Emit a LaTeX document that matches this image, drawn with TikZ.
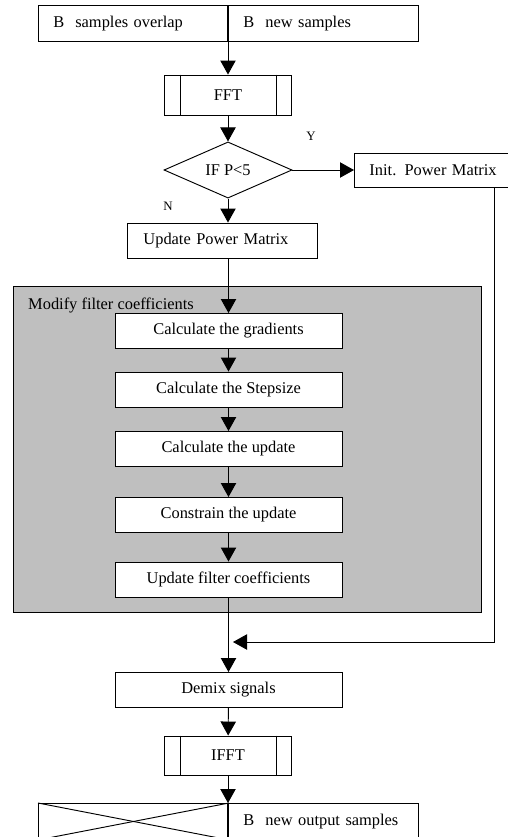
\documentclass[tikz,border=0pt]{standalone}
\usepackage{fontspec}
\setmainfont{Liberation Serif}
\usetikzlibrary{arrows.meta,shapes.geometric,positioning,calc}

\tikzset{
  box/.style={draw, line width=0.8pt, fill=white, minimum height=1.05cm, inner sep=0pt,
    font=\fontsize{14}{16}\selectfont},
  leftbox/.style={box, align=left, inner xsep=0.45cm},
  halfbox/.style={leftbox, anchor=north west, minimum width=5.7cm, text width=4.8cm, minimum height=1.08cm},
  process/.style={box, minimum width=3.81cm},
  stepbox/.style={box, minimum width=6.81cm},
  tag/.style={font=\fontsize{11}{12}\selectfont},
  arr/.style={-{Triangle[length=0.42cm,width=0.46cm]}, line width=0.8pt},
}

\begin{document}
\begin{tikzpicture}[x=0.03cm,y=-0.03cm]
\useasboundingbox (0,0) rectangle (508,837);
\fill[white] (0,0) rectangle (508,837);

% input block
\node[halfbox] (old) at (38,5) {B\ \ samples overlap};
\node[halfbox] (new) at (228,5) {B\ \ new samples};
\draw[line width=1.4pt] (new.north west) -- (new.south west);

\node[process, minimum height=1.2cm] (fft) at (228,95) {FFT};
\draw[line width=0.8pt] ([xshift=0.48cm]fft.north west) -- ([xshift=0.48cm]fft.south west);
\draw[line width=0.8pt] ([xshift=-0.48cm]fft.north east) -- ([xshift=-0.48cm]fft.south east);

\node[draw, diamond, line width=0.8pt, minimum width=3.84cm, minimum height=1.5cm, inner sep=0pt,
  font=\fontsize{14}{16}\selectfont] (dec) at (228,170) {IF P<5};
\node[tag] (yes) at (311,136) {Y};
\node[tag] (no) at (168,206) {N};

\node[leftbox, anchor=west, minimum width=4.83cm, text width=3.93cm, minimum height=1.02cm] (init) at (354,170) {Init. Power Matrix};
\node[leftbox, anchor=west, minimum width=5.64cm, text width=4.74cm, inner xsep=0.48cm] (upm) at (127,240.5) {Update Power Matrix};

% filter update group
\node[draw, line width=0.8pt, fill=black!25, anchor=north west, minimum width=14.04cm, minimum height=9.78cm] (group) at (13,286) {};
\node[anchor=west, inner sep=0pt, font=\fontsize{14}{16}\selectfont] (grouplbl) at (28,305) {Modify filter coefficients};

\node[stepbox] (grad) at (228.5,331) {Calculate the gradients};
\node[stepbox] (stepsz) at (228.5,389.5) {Calculate the Stepsize};
\node[stepbox] (calc) at (228.5,449) {Calculate the update};
\node[stepbox] (cons) at (228.5,515) {Constrain the update};
\node[stepbox] (upfc) at (228.5,579.5) {Update filter coefficients};

\node[stepbox] (demix) at (228.5,690) {Demix signals};
\node[process, minimum height=1.17cm] (ifft) at (228,755.5) {IFFT};
\draw[line width=0.8pt] ([xshift=0.48cm]ifft.north west) -- ([xshift=0.48cm]ifft.south west);
\draw[line width=0.8pt] ([xshift=-0.48cm]ifft.north east) -- ([xshift=-0.48cm]ifft.south east);

% output block
\node[halfbox] (outl) at (38,803) {};
\node[halfbox] (outn) at (228,803) {B\ \ new output samples};
\draw[line width=0.8pt] (outl.north west) -- (outl.south east);
\draw[line width=0.8pt] (outl.north east) -- (outl.south west);
\draw[line width=1.4pt] (outn.north west) -- (outn.south west);

\coordinate (ret) at (494,0);
\coordinate (merge) at (233,642);

\draw[arr] (new.south west) -- (fft);
\draw[arr] (fft) -- (dec);
\draw[arr] (dec) -- (init);
\draw[arr] (dec.south) -- (dec.south |- upm.north);
\draw[arr] (upm.south -| grad.north) -- (grad.north);
\draw[arr] (grad) -- (stepsz);
\draw[arr] (stepsz) -- (calc);
\draw[arr] (calc) -- (cons);
\draw[arr] (cons) -- (upfc);
\draw[arr] (upfc) -- (demix);
\draw[arr] (init.south -| ret) |- (merge);
\draw[arr] (demix) -- (ifft);
\draw[arr] (ifft) -- (outn.north west);
\end{tikzpicture}
\end{document}
